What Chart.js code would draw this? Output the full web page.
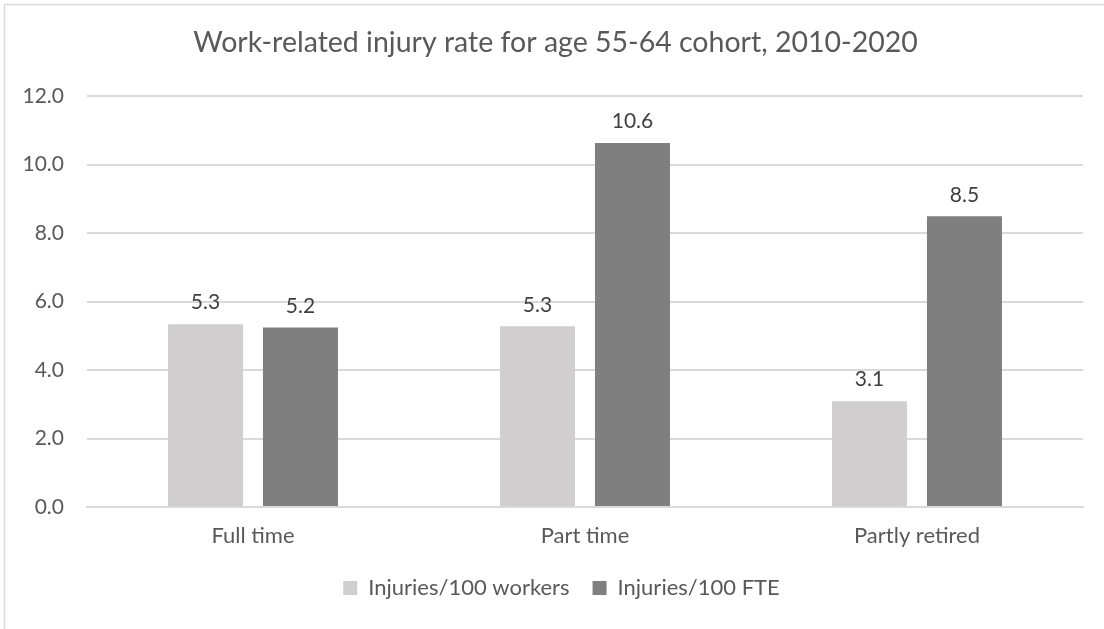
<!DOCTYPE html>
<html>
<head>
<meta charset="utf-8">
<script src="https://cdn.jsdelivr.net/npm/chart.js@4"></script>
<style>
html,body{margin:0;padding:0;background:#fff;}
#wrap{position:relative;width:1104px;height:629px;}
</style>
</head>
<body>
<div id="wrap"><canvas id="c" width="1104" height="629"></canvas></div>
<script>
const categories = ["Full time", "Part time", "Partly retired"];
const seriesNames = ["Injuries/100 workers", "Injuries/100 FTE"];
const workers = [5.34, 5.28, 3.09];
const fte = [5.24, 10.63, 8.49];
const yTicks = [0, 2, 4, 6, 8, 10, 12];
const titleText = "Work-related injury rate for age 55-64 cohort, 2010-2020";

const FONT = "Lato, 'Open Sans', sans-serif";
const TEXT = "#595959";

const borderPlugin = {
  id: 'outerBorder',
  afterLayout(chart) {
    // centre title and legend on the whole chart frame rather than the padded box
    if (chart.titleBlock) { chart.titleBlock.left += 14; chart.titleBlock.right += 14; }
    if (chart.legend) { chart.legend.left += 20; chart.legend.right += 20; }
  },
  beforeDraw(chart) {
    const ctx = chart.ctx;
    ctx.save();
    ctx.fillStyle = '#fff';
    ctx.fillRect(0, 0, chart.width, chart.height);
    ctx.strokeStyle = '#D9D9D9';
    ctx.lineWidth = 1.5;
    ctx.beginPath();
    ctx.moveTo(4.5, chart.height);
    ctx.lineTo(4.5, 4.5);
    ctx.lineTo(chart.width, 4.5);
    ctx.stroke();
    ctx.restore();
  }
};

const labelPlugin = {
  id: 'valueLabels',
  afterDatasetsDraw(chart) {
    const ctx = chart.ctx;
    ctx.save();
    ctx.font = "21px " + FONT;
    ctx.fillStyle = "#404040";
    ctx.textAlign = 'center';
    ctx.textBaseline = 'bottom';
    chart.data.datasets.forEach((ds, i) => {
      chart.getDatasetMeta(i).data.forEach((el, j) => {
        ctx.fillText(ds.data[j].toFixed(1), el.x, el.y - 11);
      });
    });
    ctx.restore();
  }
};

new Chart(document.getElementById('c'), {
  type: 'bar',
  data: {
    labels: categories,
    datasets: [
      { label: seriesNames[0], data: workers, backgroundColor: '#D0CECE', categoryPercentage: 0.572, barPercentage: 0.79 },
      { label: seriesNames[1], data: fte, backgroundColor: '#7F7F7F', categoryPercentage: 0.572, barPercentage: 0.79 }
    ]
  },
  options: {
    responsive: false,
    animation: false,
    layout: { padding: { left: 0, right: 21, top: 0, bottom: 20 } },
    plugins: {
      title: {
        display: true, text: titleText, color: TEXT,
        font: { family: FONT, size: 28.5, weight: 'normal' },
        padding: { top: 26, bottom: 36 }
      },
      legend: {
        position: 'bottom',
        labels: {
          color: TEXT, font: { family: FONT, size: 22 },
          boxWidth: 14, boxHeight: 14, padding: 23
        }
      },
      tooltip: { enabled: false }
    },
    scales: {
      x: {
        grid: { display: false },
        border: { color: '#D9D9D9', width: 2 },
        ticks: { color: TEXT, font: { family: FONT, size: 22 }, padding: 8 },
        afterFit(s) { s.height = 47; }
      },
      y: {
        min: 0, max: 12,
        afterBuildTicks(s) { s.ticks = yTicks.map(v => ({ value: v })); },
        grid: { color: '#D9D9D9', lineWidth: 2, drawTicks: false },
        border: { display: false },
        ticks: { color: TEXT, font: { family: FONT, size: 21 }, padding: 23,
          callback: v => v.toFixed(1) },
        afterFit(s) { s.width = 87; }
      }
    }
  },
  plugins: [borderPlugin, labelPlugin]
});
</script>
</body>
</html>
